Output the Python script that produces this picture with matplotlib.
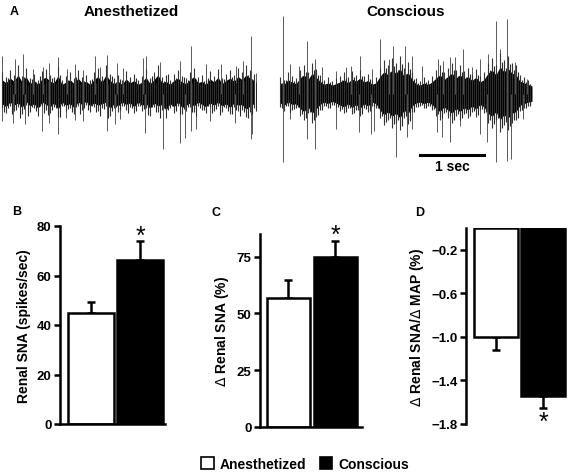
import numpy as np
import matplotlib
matplotlib.use("Agg")
import matplotlib.pyplot as plt
from matplotlib.patches import Patch

plt.rcParams['font.family'] = ['Liberation Sans', 'DejaVu Sans']

## DATA
groups = ['Anesthetized', 'Conscious']
sna_mean = [44.7, 66.3]          # spikes/sec
sna_sem = [4.5, 7.5]
dsna_mean = [57.0, 75.0]         # %
dsna_sem = [7.9, 6.7]
ratio_mean = [-1.00, -1.54]      # % / mmHg
ratio_sem = [0.12, 0.11]

# nerve recordings: envelope sampled every 1/16 s (a.u.)
anes_up = [18, 14, 20, 16, 24, 15, 22, 13, 17, 12, 19, 21, 16, 14, 23, 12,
           15, 18, 13, 20, 14, 16, 12, 18, 22, 15, 24, 17, 13, 16, 12, 19,
           14, 17, 12, 15, 21, 13, 18, 24, 14, 16, 12, 17, 20, 15, 13, 18,
           22, 14, 16, 12, 19, 15, 21, 13, 17, 20, 16, 22, 18, 24, 20, 17]
anes_dn = [12, 16, 10, 14, 11, 17, 9, 15, 12, 18, 10, 13, 16, 11, 19, 10,
           14, 12, 17, 10, 13, 9, 15, 11, 14, 12, 10, 18, 12, 15, 10, 13,
           11, 16, 10, 14, 12, 18, 11, 15, 13, 20, 12, 16, 10, 17, 14, 11,
           15, 10, 13, 16, 11, 14, 10, 15, 12, 17, 11, 14, 13, 19, 15, 12]
con_up = [14, 12, 18, 15, 13, 20, 24, 18, 26, 21, 16, 12, 14, 11, 13, 15,
          18, 14, 19, 16, 20, 15, 17, 12, 14, 22, 28, 24, 30, 26, 32, 22,
          27, 18, 13, 11, 14, 12, 15, 20, 24, 18, 22, 26, 20, 24, 19, 22,
          17, 21, 15, 18, 26, 30, 24, 34, 28, 32, 26, 24, 16, 14, 12, 10]
con_dn = [11, 14, 10, 13, 12, 18, 22, 16, 24, 19, 13, 10, 12, 9, 11, 14,
          16, 12, 17, 13, 18, 12, 15, 10, 12, 20, 26, 22, 28, 24, 30, 20,
          25, 15, 11, 10, 12, 10, 13, 18, 22, 16, 20, 24, 18, 22, 17, 20,
          15, 19, 13, 16, 24, 28, 22, 32, 26, 30, 24, 22, 14, 12, 10, 9]

anes_spk_up_t = [0.03, 0.23, 0.36, 0.52, 0.67, 0.77, 0.91, 1.05, 1.17, 1.30, 1.48, 1.56, 1.67,
                 1.83, 1.92, 2.23, 2.28, 2.50, 2.81, 2.98, 3.22, 3.45, 3.69, 3.80, 3.92, 4.00]
anes_spk_up = [38, 35, 40, 25, 27, 31, 37, 25, 30, 24, 38, 27, 39,
               31, 26, 36, 38, 32, 33, 48, 30, 30, 28, 33, 58, 21]
anes_spk_dn_t = [0.03, 0.20, 0.39, 0.66, 0.77, 0.91, 1.03, 1.17, 1.30, 1.67, 1.80, 1.88, 2.27,
                 2.55, 2.81, 2.89, 2.98, 3.06, 3.28, 3.67, 3.92, 3.94]
anes_spk_dn = [27, 29, 30, 37, 29, 40, 24, 26, 27, 37, 30, 25, 39,
               55, 49, 44, 37, 35, 27, 29, 45, 40]
con_spk_up_t = [0.08, 0.19, 0.33, 0.45, 0.58, 0.69, 0.91, 1.06, 1.14, 1.28, 1.47, 1.59, 1.73, 1.80, 1.98,
                2.09, 2.25, 2.50, 2.58, 2.69, 2.77, 2.89, 3.03, 3.16, 3.28, 3.41, 3.47, 3.58, 3.70, 3.89]
con_spk_up = [78, 30, 28, 53, 35, 27, 23, 27, 28, 38, 25, 55, 35, 48, 48,
              38, 28, 35, 33, 37, 37, 45, 27, 35, 40, 73, 45, 75, 32, 15]
con_spk_dn_t = [0.08, 0.19, 0.45, 0.58, 0.91, 1.27, 1.45, 1.50, 1.84, 2.02, 2.09,
                2.48, 2.56, 2.69, 2.84, 3.16, 3.27, 3.41, 3.58, 3.64, 3.83]
con_spk_dn = [68, 25, 45, 55, 35, 38, 40, 37, 63, 43, 35,
              38, 43, 48, 32, 40, 48, 68, 67, 65, 25]

fig = plt.figure(figsize=(5.72, 4.77), dpi=100)


def draw_trace(ax, up, dn, spk_up_t, spk_up, spk_dn_t, spk_dn):
    up = np.asarray(up)
    dn = np.asarray(dn)
    n = len(up)
    t = np.arange(n) / 16.0 + 1 / 32.0
    # single large units
    ax.vlines(spk_up_t, 0, spk_up, color='0.35', lw=0.7)
    ax.vlines(spk_dn_t, -np.asarray(spk_dn), 0, color='0.35', lw=0.7)
    # envelope of activity, as thin deflections
    ax.vlines(t, -dn * 1.2, up * 1.2, color='0.2', lw=0.8)
    ax.vlines(t + 1 / 32.0, -up, dn, color='0.15', lw=0.8)
    # dense core
    ax.fill_between(t, -dn * 0.8, up * 0.8, color='black', lw=0)
    ax.set_ylim(-80, 80)
    ax.axis('off')


# A: raw recordings
axA1 = fig.add_axes([0.0, 0.633, 257 / 572, 160 / 477])
draw_trace(axA1, anes_up, anes_dn, anes_spk_up_t, anes_spk_up, anes_spk_dn_t, anes_spk_dn)
axA1.set_xlim(0, 257 / 64)
axA2 = fig.add_axes([278 / 572, 0.633, 254 / 572, 160 / 477])
draw_trace(axA2, con_up, con_dn, con_spk_up_t, con_spk_up, con_spk_dn_t, con_spk_dn)
axA2.set_xlim(0, 254 / 64)
# scale bar 1 sec
axA2.plot([2.22, 3.22], [-61, -61], color='black', lw=2.2, clip_on=False)
axA2.text(2.72, -72, '1 sec', ha='center', va='center', fontsize=10,
          fontweight='bold', clip_on=False)

fig.text(10 / 572, 1 - 12 / 477, 'A', fontsize=9, fontweight='bold', ha='left', va='center')
fig.text(131 / 572, 1 - 12 / 477, 'Anesthetized', fontsize=11, fontweight='bold',
         ha='center', va='center')
fig.text(406 / 572, 1 - 12 / 477, 'Conscious', fontsize=11, fontweight='bold',
         ha='center', va='center')

x = np.arange(2)
colors = ['white', 'black']


def style_bar_axes(ax):
    for s in ['top', 'right']:
        ax.spines[s].set_visible(False)
    ax.spines['left'].set_linewidth(1.8)
    ax.spines['bottom'].set_linewidth(1.8)
    ax.tick_params(axis='y', width=1.8, length=4, labelsize=9.5, pad=2)
    for lab in ax.get_yticklabels():
        lab.set_fontweight('bold')
    ax.set_xticks([])


def star(ax, xpos, ypos):
    ax.text(xpos, ypos, '*', ha='center', va='center', fontsize=18,
            fontweight='normal', clip_on=False)


# B
axB = fig.add_axes([60 / 572, 52 / 477, 105 / 572, 198 / 477])
axB.bar(x, sna_mean, width=0.94, color=colors, edgecolor='black', lw=1.8, zorder=2)
axB.errorbar(x, sna_mean, yerr=[[0, 0], sna_sem], fmt='none', ecolor='black',
             elinewidth=1.8, capsize=3, capthick=1.8, zorder=1)
axB.set_xlim(-0.633, 1.51)
axB.set_ylim(0, 80)
axB.set_yticks([0, 20, 40, 60, 80])
style_bar_axes(axB)
axB.set_ylabel('Renal SNA (spikes/sec)', fontsize=10, fontweight='bold', labelpad=4)
star(axB, 1, sna_mean[1] + sna_sem[1] + 2.4)
fig.text(12 / 572, 1 - 212 / 477, 'B', fontsize=9, fontweight='bold', ha='left', va='center')

# C
axC = fig.add_axes([260 / 572, 49 / 477, 102 / 572, 193 / 477])
axC.bar(x, dsna_mean, width=0.92, color=colors, edgecolor='black', lw=1.8, zorder=2)
axC.errorbar(x, dsna_mean, yerr=[[0, 0], dsna_sem], fmt='none', ecolor='black',
             elinewidth=1.8, capsize=3, capthick=1.8, zorder=1)
axC.set_xlim(-0.6, 1.57)
axC.set_ylim(0, 85)
axC.set_yticks([0, 25, 50, 75])
style_bar_axes(axC)
axC.set_ylabel(r'$\Delta$ Renal SNA (%)', fontsize=10, fontweight='bold', labelpad=4)
star(axC, 1, dsna_mean[1] + dsna_sem[1] + 2.8)
fig.text(212 / 572, 1 - 213 / 477, 'C', fontsize=9, fontweight='bold', ha='left', va='center')

# D
axD = fig.add_axes([466 / 572, 52 / 477, 104 / 572, 196 / 477])
axD.bar(x, ratio_mean, width=0.93, color=colors, edgecolor='black', lw=1.8, zorder=2)
axD.errorbar(x, ratio_mean, yerr=[ratio_sem, [0, 0]], fmt='none', ecolor='black',
             elinewidth=1.8, capsize=3, capthick=1.8, zorder=1)
axD.set_xlim(-0.64, 1.57)
axD.set_ylim(-1.8, 0)
axD.set_yticks([-1.8, -1.4, -1.0, -0.6, -0.2])
style_bar_axes(axD)
axD.spines['bottom'].set_visible(False)
axD.set_ylabel(r'$\Delta$ Renal SNA/$\Delta$ MAP (%)', fontsize=10, fontweight='bold',
               labelpad=4)
star(axD, 1, ratio_mean[1] - ratio_sem[1] - 0.13)
fig.text(415 / 572, 1 - 213 / 477, 'D', fontsize=9, fontweight='bold', ha='left', va='center')

# legend
handles = [Patch(facecolor='white', edgecolor='black', lw=1.2),
           Patch(facecolor='black', edgecolor='black', lw=1.2)]
fig.legend(handles, groups, loc='center', bbox_to_anchor=(305 / 572, 1 - 465 / 477),
           ncol=2, frameon=False, prop={'size': 10, 'weight': 'bold'},
           handlelength=0.9, handleheight=1.0,
           handletextpad=0.4, columnspacing=1.0, borderpad=0)

fig.savefig('out.png', dpi=100)
